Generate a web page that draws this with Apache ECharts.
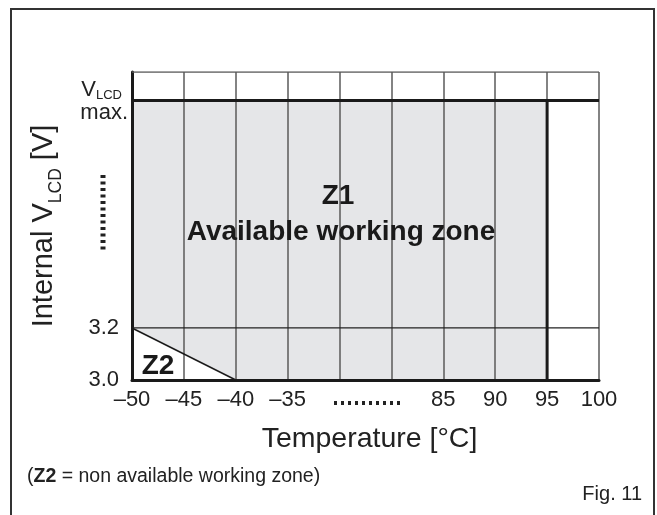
<!DOCTYPE html>
<html>
<head>
<meta charset="utf-8">
<script src="https://cdn.jsdelivr.net/npm/echarts@6/dist/echarts.min.js"></script>
<style>
	html, body { margin: 0; padding: 0; background: #fff; }
	#chart { width: 657px; height: 515px; }
</style>
</head>
<body>
<div id="chart"></div>
<script>
// x positions are column boundaries (index), labels as printed
const xTickLabels = ['–50', '–45', '–40', '–35', '', '', '85', '90', '95', '100'];
// y levels: 3.0 -> 0, 3.2 -> 1, VLCD max -> 5.37, top of grid -> 5.92
const yLevels = [0, 1, 5.37];
const yTop = 5.92;
const yTickLabels = ['3.0', '3.2', 'max'];

// Z1 available working zone outline (x index, y level)
const zone1 = [[0, 1], [0, 5.37], [8, 5.37], [8, 0], [2, 0]];
// Z2 boundary (diagonal)
const z2Edge = [[0, 1], [2, 0]];
const edge95 = [[8, 0], [8, 5.37]];
const lineMax = [[0, 5.37], [9, 5.37]];
const line32 = [[0, 1], [9, 1]];
const lineTop = [[0, yTop], [9, yTop]];

const font = "'Liberation Sans', Arial, Helvetica, sans-serif";

var chart = echarts.init(document.getElementById('chart'));

function hline(data, color, width) {
	return {
		type: 'line',
		data: data,
		symbol: 'none',
		silent: true,
		z: 4,
		lineStyle: { color: color, width: width }
	};
}

var option = {
	backgroundColor: '#fff',
	animation: false,
	textStyle: { fontFamily: font },
	grid: { left: 132, right: 58, top: 72, bottom: 135 },
	xAxis: {
		type: 'value',
		min: 0,
		max: 9,
		interval: 1,
		z: 3,
		name: 'Temperature [°C]',
		nameLocation: 'middle',
		nameGap: 45,
		nameTextStyle: { fontSize: 28.5, color: '#222', fontFamily: font, padding: [0, 0, 0, 8] },
		axisLine: { show: true, lineStyle: { color: '#1a1a1a', width: 3 } },
		axisTick: { show: false },
		axisLabel: {
			margin: 9,
			fontSize: 22,
			color: '#222',
			fontFamily: font,
			formatter: function (v) { return xTickLabels[Math.round(v)] || ''; }
		},
		splitLine: { show: true, lineStyle: { color: '#5a5a5a', width: 1.5 } }
	},
	yAxis: {
		type: 'value',
		min: 0,
		max: yTop,
		z: 3,
		name: 'Internal V{s|LCD} [V]',
		nameLocation: 'middle',
		nameGap: 74,
		nameTextStyle: {
			fontSize: 29, color: '#222', fontFamily: font,
			rich: { s: { fontSize: 17.5, color: '#222', fontFamily: font, verticalAlign: 'bottom', padding: [0, 0, -7, 0] } }
		},
		axisLine: { show: true, lineStyle: { color: '#1a1a1a', width: 3 } },
		axisTick: { show: false },
		splitLine: { show: false },
		axisLabel: {
			customValues: yLevels,
			margin: 4,
			color: '#222',
			fontFamily: font,
			formatter: function (v) {
				let i = yLevels.indexOf(v);
				if (i < 0) return '';
				if (yTickLabels[i] === 'max') return '{v|V}{s|LCD}\n{m|max.}';
				return '{n|' + yTickLabels[i] + '}';
			},
			rich: {
				n: { fontSize: 22, color: '#222', fontFamily: font, padding: [0, 9, 0, 0] },
				v: { fontSize: 22, color: '#222', fontFamily: font, lineHeight: 24 },
				s: { fontSize: 13, color: '#222', fontFamily: font, lineHeight: 24, verticalAlign: 'bottom', padding: [0, 6, 0, 0] },
				m: { fontSize: 22, color: '#222', fontFamily: font, lineHeight: 22 }
			}
		}
	},
	graphic: [
		{
			type: 'rect',
			shape: { x: 11, y: 9, width: 643, height: 530 },
			style: { fill: null, stroke: '#333', lineWidth: 2 }
		},
		{
			type: 'text', z: 20, style: {
				text: 'Z1', x: 338, y: 196, align: 'center', verticalAlign: 'middle',
				font: 'bold 28px ' + font, fill: '#1a1a1a'
			}
		},
		{
			type: 'text', z: 20, style: {
				text: 'Available working zone', x: 341, y: 232, align: 'center', verticalAlign: 'middle',
				font: 'bold 28px ' + font, fill: '#1a1a1a'
			}
		},
		{
			type: 'text', z: 20, style: {
				text: 'Z2', x: 158, y: 366, align: 'center', verticalAlign: 'middle',
				font: 'bold 28px ' + font, fill: '#1a1a1a'
			}
		},
		{
			type: 'line', z: 20, shape: { x1: 103, y1: 175, x2: 103, y2: 253 },
			style: { stroke: '#222', lineWidth: 5, lineDash: [3, 3.5] }
		},
		{
			type: 'line', z: 20, shape: { x1: 334, y1: 403, x2: 400, y2: 403 },
			style: { stroke: '#222', lineWidth: 4, lineDash: [3, 4] }
		},
		{
			type: 'text', z: 20, style: {
				text: '({b|Z2} = non available working zone)', x: 27, y: 477, verticalAlign: 'middle',
				font: '19.5px ' + font, fill: '#222',
				rich: { b: { font: 'bold 19.5px ' + font, fill: '#222' } }
			}
		},
		{
			type: 'text', z: 20, style: {
				text: 'Fig. 11', x: 642, y: 494, align: 'right', verticalAlign: 'middle',
				font: '20px ' + font, fill: '#222'
			}
		}
	],
	series: [
		{
			type: 'custom',
			z: 1,
			silent: true,
			data: [[0, 0]],
			renderItem: function (params, api) {
				return {
					type: 'polygon',
					shape: { points: zone1.map(function (p) { return api.coord(p); }) },
					style: { fill: '#e5e6e8' }
				};
			}
		},
		hline(lineTop, '#5a5a5a', 1.5),
		hline(line32, '#222', 1.2),
		hline(lineMax, '#1a1a1a', 3),
		hline(edge95, '#1a1a1a', 3),
		hline(z2Edge, '#1a1a1a', 1.5)
	]
};

chart.setOption(option);
</script>
</body>
</html>
